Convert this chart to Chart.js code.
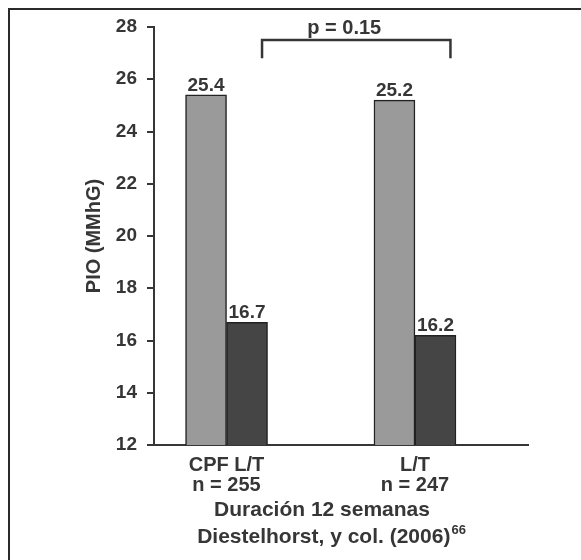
<!DOCTYPE html>
<html>
<head>
<meta charset="utf-8">
<script src="https://cdn.jsdelivr.net/npm/chart.js@4"></script>
<style>
  html, body { margin: 0; padding: 0; background: #fff; }
  #wrap { width: 581px; height: 560px; }
</style>
</head>
<body>
<div id="wrap"><canvas id="chart" width="581" height="560"></canvas></div>
<script>
// datos
const groups = ["CPF L/T", "L/T"];
const groupN = ["n = 255", "n = 247"];
const pioBase = [25.4, 25.2];
const pioFinal = [16.7, 16.2];
const yMin = 12, yMax = 28, yStep = 2;
const pText = "p = 0.15";
const footLine1 = "Duración 12 semanas";
const footLine2 = "Diestelhorst, y col. (2006)";
const footSup = "66";

const ink = "#363636";
const fontFam = "'Liberation Sans', Arial, sans-serif";

// fondo y marco
const framePlugin = {
  id: "frame",
  beforeDraw(chart) {
    const ctx = chart.ctx;
    ctx.save();
    ctx.fillStyle = "#fff";
    ctx.fillRect(0, 0, chart.width, chart.height);
    ctx.strokeStyle = "#2a2a2a";
    ctx.lineWidth = 2;
    ctx.strokeRect(9, 9, 700, 700);
    ctx.restore();
  }
};

// etiquetas de valores, corchete y pie
const labelPlugin = {
  id: "labels",
  afterDatasetsDraw(chart) {
    const ctx = chart.ctx;
    const y = chart.scales.y;
    ctx.save();
    ctx.fillStyle = ink;
    ctx.font = "bold 19px " + fontFam;
    ctx.textAlign = "center";
    ctx.textBaseline = "alphabetic";
    chart.data.datasets.forEach((ds, di) => {
      chart.getDatasetMeta(di).data.forEach((bar, i) => {
        ctx.fillText(ds.data[i].y.toFixed(1), bar.x, bar.y - 4);
      });
    });

    // corchete p
    const dark = chart.getDatasetMeta(1).data;
    const x1 = dark[0].x + 15, x2 = dark[1].x + 15;
    const yTop = y.getPixelForValue(27.5), yBot = y.getPixelForValue(26.8);
    ctx.strokeStyle = ink;
    ctx.lineWidth = 2.5;
    ctx.beginPath();
    ctx.moveTo(x1, yBot);
    ctx.lineTo(x1, yTop);
    ctx.lineTo(x2, yTop);
    ctx.lineTo(x2, yBot);
    ctx.stroke();
    ctx.textBaseline = "middle";
    ctx.font = "bold 20px " + fontFam;
    ctx.fillText(pText, (x1 + x2) / 2 - 12, y.getPixelForValue(yMax) + 1);

    // pie
    ctx.font = "bold 21px " + fontFam;
    ctx.fillText(footLine1, 322, 510);
    const w2 = ctx.measureText(footLine2).width;
    ctx.font = "bold 13px " + fontFam;
    const ws = ctx.measureText(footSup).width;
    const start = 331 - (w2 + ws) / 2;
    ctx.textAlign = "left";
    ctx.fillText(footSup, start + w2 + 1, 530);
    ctx.font = "bold 21px " + fontFam;
    ctx.fillText(footLine2, start, 537);
    ctx.restore();
  }
};

new Chart(document.getElementById("chart"), {
  type: "bar",
  data: {
    datasets: [
      {
        label: "Basal",
        data: pioBase.map((v, i) => ({ x: i, y: v })),
        backgroundColor: "#9a9a9a",
        borderColor: "#222",
        borderWidth: 1.5,
        borderSkipped: "bottom",
        barThickness: 41
      },
      {
        label: "12 semanas",
        data: pioFinal.map((v, i) => ({ x: i, y: v })),
        backgroundColor: "#454545",
        borderColor: "#222",
        borderWidth: 1.5,
        borderSkipped: "bottom",
        barThickness: 41
      }
    ]
  },
  options: {
    responsive: false,
    animation: false,
    layout: { padding: { left: 70, top: 27, right: 53, bottom: 0 } },
    plugins: {
      legend: { display: false },
      tooltip: { enabled: false }
    },
    scales: {
      x: {
        type: "linear",
        min: -0.385,
        max: 1.6,
        offset: false,
        afterBuildTicks: (scale) => {
          scale.ticks = groups.map((_, i) => ({ value: i }));
        },
        afterFit: (scale) => { scale.height = 115; },
        grid: { display: false, drawTicks: false },
        border: { display: true, color: ink, width: 2 },
        ticks: {
          padding: 10,
          color: ink,
          maxRotation: 0,
          autoSkip: false,
          font: { family: fontFam, size: 20, weight: "bold", lineHeight: 1.0 },
          callback: (v) => [groups[v], groupN[v]]
        }
      },
      y: {
        min: yMin,
        max: yMax,
        afterFit: (scale) => { scale.width = 84; },
        grid: { drawOnChartArea: false, drawTicks: true, tickLength: 7, color: ink, lineWidth: 2 },
        border: { display: true, color: ink, width: 2 },
        ticks: {
          stepSize: yStep,
          padding: 10,
          color: ink,
          font: { family: fontFam, size: 19, weight: "bold" }
        },
        title: {
          display: true,
          text: "PIO (MMhG)",
          color: ink,
          padding: { top: 12, bottom: 0 },
          font: { family: fontFam, size: 20, weight: "bold" }
        }
      }
    }
  },
  plugins: [framePlugin, labelPlugin]
});
</script>
</body>
</html>
